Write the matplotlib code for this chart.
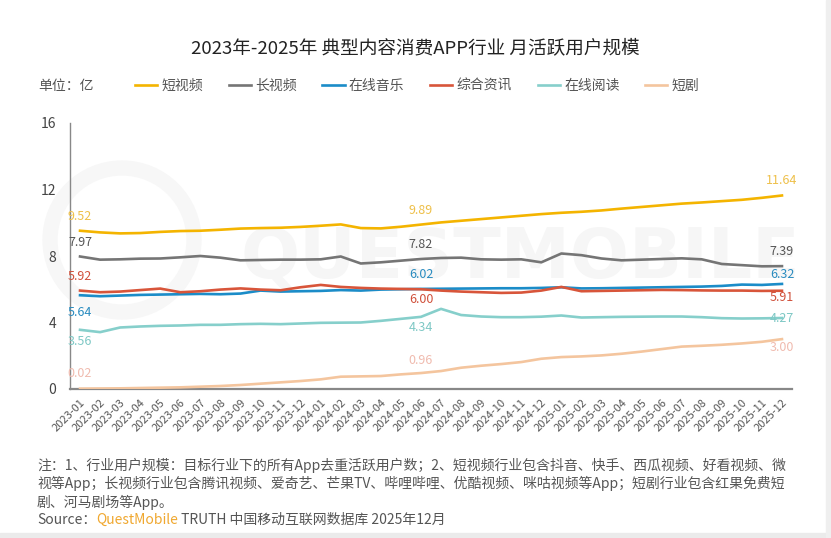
import matplotlib
matplotlib.use("Agg")
import matplotlib.pyplot as plt
from matplotlib.patches import Rectangle, Circle
import numpy as np

plt.rcParams['font.family'] = ['Noto Sans CJK SC', 'DejaVu Sans']

# ---- data (单位：亿) ----
months = [f"{y}-{m:02d}" for y in (2023, 2024, 2025) for m in range(1, 13)]

series_names = ['短视频', '长视频', '在线音乐', '综合资讯', '在线阅读', '短剧']

short_video = [9.52, 9.42, 9.36, 9.38, 9.45, 9.50, 9.52, 9.58, 9.65, 9.68, 9.70, 9.75,
               9.82, 9.90, 9.68, 9.66, 9.76, 9.89, 10.02, 10.12, 10.22, 10.32, 10.42, 10.52,
               10.60, 10.66, 10.74, 10.85, 10.95, 11.05, 11.15, 11.22, 11.30, 11.38, 11.50, 11.64]
long_video = [7.97, 7.78, 7.80, 7.84, 7.85, 7.92, 8.00, 7.90, 7.74, 7.76, 7.78, 7.78,
              7.80, 7.97, 7.55, 7.62, 7.72, 7.82, 7.88, 7.90, 7.80, 7.78, 7.80, 7.62,
              8.15, 8.05, 7.85, 7.74, 7.78, 7.82, 7.86, 7.80, 7.52, 7.45, 7.38, 7.39]
music = [5.64, 5.58, 5.62, 5.66, 5.68, 5.70, 5.72, 5.70, 5.74, 5.92, 5.86, 5.88,
         5.90, 5.95, 5.92, 5.98, 6.00, 6.02, 6.03, 6.04, 6.05, 6.06, 6.06, 6.08,
         6.12, 6.05, 6.06, 6.08, 6.10, 6.12, 6.14, 6.16, 6.20, 6.28, 6.26, 6.32]
news = [5.92, 5.82, 5.86, 5.95, 6.04, 5.82, 5.88, 5.98, 6.05, 5.98, 5.94, 6.12,
        6.26, 6.14, 6.08, 6.04, 6.02, 6.00, 5.92, 5.86, 5.82, 5.78, 5.80, 5.92,
        6.14, 5.88, 5.90, 5.92, 5.94, 5.96, 5.95, 5.93, 5.92, 5.92, 5.90, 5.91]
reading = [3.56, 3.42, 3.70, 3.76, 3.80, 3.82, 3.86, 3.86, 3.90, 3.92, 3.90, 3.94,
           3.98, 3.99, 4.00, 4.10, 4.22, 4.34, 4.82, 4.45, 4.36, 4.32, 4.32, 4.35,
           4.42, 4.30, 4.32, 4.34, 4.35, 4.36, 4.36, 4.32, 4.26, 4.24, 4.25, 4.27]
short_drama = [0.02, 0.03, 0.04, 0.06, 0.08, 0.10, 0.14, 0.18, 0.24, 0.32, 0.40, 0.48,
               0.58, 0.74, 0.76, 0.78, 0.88, 0.96, 1.08, 1.28, 1.40, 1.50, 1.62, 1.82,
               1.92, 1.96, 2.02, 2.12, 2.25, 2.40, 2.55, 2.60, 2.66, 2.74, 2.84, 3.00]

label_idx = [0, 17, 35]  # points that carry a value label

# ---- styles ----
line_colors = ['#F4B400', '#757575', '#1B8CC8', '#D8553A', '#86CFCB', '#F4C59E']
text_colors = ['#EEC04A', '#555555', '#2A8CC0', '#D0503A', '#7EC8C5', '#F0BBAF']
# vertical offsets (pixels) for start / middle / end labels
label_dy = [(14, 14, 15), (14, 14, 15), (-17, 14, 9), (14, -10, -7), (-12, -11, 0), (15, 13, -8)]

all_series = [short_video, long_video, music, news, reading, short_drama]

W, H = 831, 538
fig = plt.figure(figsize=(W / 100, H / 100), dpi=100)
fig.patch.set_facecolor('white')

ax = fig.add_axes([70 / W, 1 - 389 / H, (792 - 70) / W, (389 - 123) / H])
ax.set_facecolor('none')

# very faint watermark, kept under the lines
ring = Circle((1.22, (H - 240) / 100), 0.72, transform=fig.dpi_scale_trans,
              fill=False, lw=11, ec='#f7f7f7', zorder=0, clip_on=False)
ax.add_artist(ring)
ax.text(520 / W, 1 - 258 / H, 'QUESTMOBILE', transform=fig.transFigure, fontsize=50,
        fontweight='bold', color='#f6f6f6', ha='center', va='center',
        family='DejaVu Sans', zorder=0, clip_on=False)

x = np.arange(len(months))
handles = []
for name, vals, lc, tc, dys in zip(series_names, all_series, line_colors, text_colors, label_dy):
    h, = ax.plot(x, vals, color=lc, lw=1.9, solid_joinstyle='round', label=name, zorder=3)
    handles.append(h)
    for k, i in enumerate(label_idx):
        ax.annotate(f'{vals[i]:.2f}', (x[i], vals[i]), xytext=(0, dys[k]),
                    textcoords='offset pixels', ha='center', va='center',
                    fontsize=9, color=tc, zorder=4)

ax.set_xlim(-0.5, len(months) - 0.5)
ax.set_ylim(0, 16)
ax.set_yticks([0, 4, 8, 12, 16])
ax.set_xticks(x)
ax.set_xticklabels(months, rotation=45, ha='right', rotation_mode='anchor', fontsize=8, color='#555555')
ax.tick_params(axis='x', length=0, pad=6)
ax.tick_params(axis='y', length=0, pad=10, labelsize=10, labelcolor='#444444')

for s in ('top', 'right'):
    ax.spines[s].set_visible(False)
ax.spines['left'].set_color('#888888')
ax.spines['left'].set_linewidth(1.0)
ax.spines['bottom'].set_color('#888888')
ax.spines['bottom'].set_linewidth(1.6)

# title and legend
fig.text(415 / W, 1 - 48 / H, '2023年-2025年 典型内容消费APP行业 月活跃用户规模',
         ha='center', va='center', fontsize=13.4, color='#222222')
fig.text(38 / W, 1 - 86 / H, '单位：亿', ha='left', va='center', fontsize=10, color='#555555')
leg = fig.legend(handles=handles, loc='center left', bbox_to_anchor=(135 / W, 1 - 86 / H),
                 ncol=6, frameon=False, fontsize=10, handlelength=1.6, handletextpad=0.3,
                 columnspacing=1.85, borderpad=0, borderaxespad=0)
for t in leg.get_texts():
    t.set_color('#555555')

# footnote
notes = ['注：1、行业用户规模：目标行业下的所有App去重活跃用户数；2、短视频行业包含抖音、快手、西瓜视频、好看视频、微',
         '视等App；长视频行业包含腾讯视频、爱奇艺、芒果TV、哔哩哔哩、优酷视频、咪咕视频等App；短剧行业包含红果免费短',
         '剧、河马剧场等App。']
for j, line in enumerate(notes):
    fig.text(37 / W, 1 - (465 + j * 18.5) / H, line, ha='left', va='center', fontsize=10, color='#555555')

src_y = 1 - 520 / H
fig.canvas.draw()
renderer = fig.canvas.get_renderer()
x0 = 37
for part, col in [('Source：', '#555555'), ('QuestMobile', '#F0A830'),
                  (' TRUTH 中国移动互联网数据库 2025年12月', '#555555')]:
    t = fig.text(x0 / W, src_y, part, ha='left', va='center', fontsize=10, color=col)
    x0 += t.get_window_extent(renderer).width

# screenshot border strips
fig.patches.append(Rectangle((0, 0), 1, 5 / H, transform=fig.transFigure, color='#ebebeb', zorder=0))
fig.patches.append(Rectangle((826 / W, 0), 5 / W, 1, transform=fig.transFigure, color='#efefef', zorder=0))

fig.savefig('out.png', dpi=100)
